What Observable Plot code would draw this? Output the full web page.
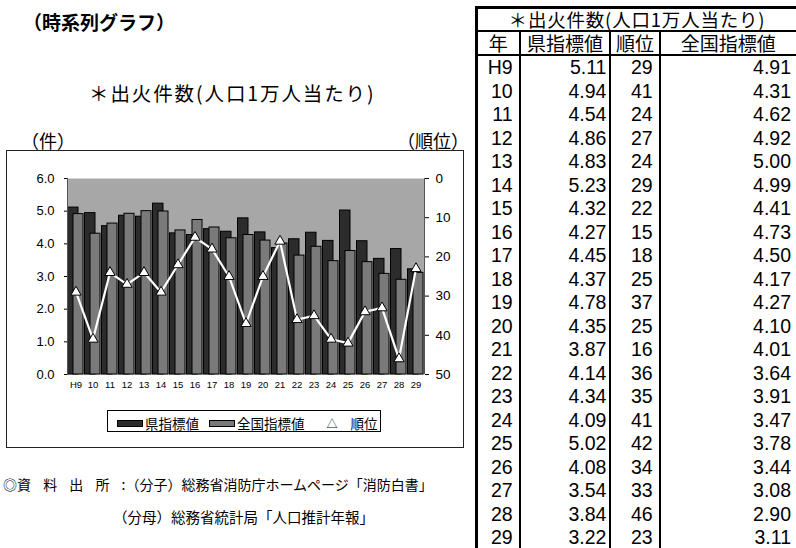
<!DOCTYPE html>
<html>
<head>
<meta charset="utf-8">
<script src="https://cdn.jsdelivr.net/npm/d3@7"></script>
<script src="https://cdn.jsdelivr.net/npm/@observablehq/plot@0.6"></script>
<style>
  body { margin:0; width:796px; height:548px; position:relative; overflow:hidden; background:#fff;
         font-family:"Noto Sans CJK JP","Liberation Sans",sans-serif; color:#000; }
  .abs { position:absolute; white-space:nowrap; }
  #panel { position:absolute; left:6px; top:150px; width:456px; height:296px; border:1px solid #222; }
  #chart { position:absolute; left:6px; top:150px; }
  #legend { position:absolute; left:107px; top:410px; width:272px; height:20px; border:1px solid #000;
            font-size:13.5px; line-height:20px; white-space:nowrap; }
  #legend span { display:inline-block; vertical-align:middle; }
  .sw { width:24px; height:5px; border:1px solid #000; margin-right:2px; }
  table { position:absolute; left:475px; top:6px; border-collapse:collapse; table-layout:fixed;
          font-family:"Liberation Sans","Noto Sans CJK JP",sans-serif; }
  td { padding:0; white-space:nowrap; }
  .h1 td { border-top:3px solid #000; border-bottom:2px solid #000; border-left:3px solid #000;
           height:21px; line-height:21px; font-size:18.5px; text-align:center; letter-spacing:0.8px;
           font-family:"Noto Sans CJK JP",sans-serif; }
  .h2 td { border-bottom:2px solid #000; height:22px; line-height:22px; font-size:19px; text-align:center;
           font-family:"Noto Sans CJK JP",sans-serif; }
  .d td { height:23.5px; line-height:23px; font-size:19.5px; text-align:right; }
  td.c0 { border-left:3px solid #000; border-right:2px solid #000; padding-right:6px; }
  td.c1 { border-right:2px solid #000; padding-right:3px; }
  td.c2 { border-right:2px solid #000; padding-right:6px; }
  td.c3 { padding-right:5px; }
  .h2 td.c0, .h2 td.c1, .h2 td.c2, .h2 td.c3 { text-align:center; padding-right:0; }
</style>
</head>
<body>
<div class="abs" style="left:23px;top:9px;font-size:19px;font-weight:bold;line-height:26px;">（時系列グラフ）</div>
<div class="abs" style="left:89px;top:80px;font-size:19.5px;letter-spacing:1.9px;line-height:26px;">＊出火件数(人口1万人当たり)</div>
<div class="abs" style="left:21px;top:127px;font-size:18px;line-height:26px;">（件）</div>
<div class="abs" style="left:397px;top:127px;font-size:18px;line-height:26px;">（順位）</div>
<div id="panel"></div>
<div id="chart"></div>
<div id="legend">
  <span class="sw" style="background:#2c2c2c;margin-left:9px"></span><span>県指標値</span><span class="sw" style="background:#7a7a7a;margin-left:10px"></span><span>全国指標値</span><span style="margin-left:22px;font-size:11px">△</span><span style="margin-left:13px">順位</span>
</div>
<div class="abs" style="left:3px;top:475px;font-size:14px;word-spacing:9px;line-height:18px;">◎資 料 出 所 :（分子）総務省消防庁ホームページ「消防白書」</div>
<div class="abs" style="left:113px;top:508px;font-size:14.5px;line-height:18px;">（分母）総務省統計局「人口推計年報」</div>
<table id="tbl"></table>
<script>
const years = ["H9","10","11","12","13","14","15","16","17","18","19","20","21","22","23","24","25","26","27","28","29"];
const prefValues = [5.11,4.94,4.54,4.86,4.83,5.23,4.32,4.27,4.45,4.37,4.78,4.35,3.87,4.14,4.34,4.09,5.02,4.08,3.54,3.84,3.22];
const rankValues = [29,41,24,27,24,29,22,15,18,25,37,25,16,36,35,41,42,34,33,46,23];
const nationalValues = [4.91,4.31,4.62,4.92,5.00,4.99,4.41,4.73,4.50,4.17,4.27,4.10,4.01,3.64,3.91,3.47,3.78,3.44,3.08,2.90,3.11];
const leftTicks = [0,1,2,3,4,5,6];
const rankTicks = [0,10,20,30,40,50];
const tableTitle = "＊出火件数(人口1万人当たり)";
const tableHeaders = ["年","県指標値","順位","全国指標値"];

const data = years.map((y,i) => ({year:y, pref:prefValues[i], nat:nationalValues[i], rank:rankValues[i]}));
const yMax = d3.max(leftTicks), rankMax = d3.max(rankTicks);
const rankToY = r => (rankMax - r) * yMax / rankMax;

const W = 458, H = 255, ml = 61, mr = 40, mt = 28, mb = 31;
const bw = (W - ml - mr) / years.length;

const chart = Plot.plot({
  width: W, height: H, marginLeft: ml, marginRight: mr, marginTop: mt, marginBottom: mb,
  style: {fontFamily: "'Liberation Sans', Arial, sans-serif", background: "transparent", overflow: "visible"},
  x: {domain: years, padding: 0, label: null},
  y: {domain: [0, yMax], label: null},
  marks: [
    Plot.frame({fill: "#a7a7a7", stroke: null}),
    Plot.barY(data, {x: "year", y: "pref", fill: "#2c2c2c", stroke: "#000", strokeWidth: 1, insetLeft: 0.5, insetRight: 6}),
    Plot.barY(data, {x: "year", y: "nat", fill: "#7a7a7a", stroke: "#000", strokeWidth: 1, insetLeft: 6, insetRight: 1}),
    Plot.ruleX([years[0]], {dx: -bw/2, stroke: "#555"}),
    Plot.ruleX([years[years.length-1]], {dx: bw/2, stroke: "#555"}),
    Plot.line(data, {x: "year", y: d => rankToY(d.rank), stroke: "#fff", strokeWidth: 2.2}),
    Plot.dot(data, {x: "year", y: d => rankToY(d.rank), symbol: "triangle", r: 3.8, fill: "#fff", stroke: "#000", strokeWidth: 1}),
    Plot.axisY({anchor: "left", ticks: leftTicks, tickFormat: d => d.toFixed(1), tickSize: 3, tickPadding: 10, fontSize: 13, label: null}),
    Plot.axisY({anchor: "right", ticks: rankTicks.map(rankToY), tickFormat: v => String(Math.round(rankMax - v * rankMax / yMax)), tickSize: 4, tickPadding: 7, fontSize: 13.5, label: null}),
    Plot.axisX({tickSize: 0, tickPadding: 7, fontSize: 9.5, label: null})
  ]
});
document.getElementById("chart").appendChild(chart);

// table
const tbl = document.getElementById("tbl");
const cg = document.createElement("colgroup");
[44, 92, 50, 140].forEach(w => { const c = document.createElement("col"); c.style.width = w + "px"; cg.appendChild(c); });
tbl.appendChild(cg);
const r1 = tbl.insertRow(); r1.className = "h1";
const t = r1.insertCell(); t.colSpan = 4; t.textContent = tableTitle;
const r2 = tbl.insertRow(); r2.className = "h2";
tableHeaders.forEach((h, i) => { const c = r2.insertCell(); c.className = "c" + i; c.textContent = h; });
years.forEach((y, i) => {
  const r = tbl.insertRow(); r.className = "d";
  [y, prefValues[i].toFixed(2), String(rankValues[i]), nationalValues[i].toFixed(2)].forEach((v, j) => {
    const c = r.insertCell(); c.className = "c" + j; c.textContent = v;
  });
});
</script>
</body>
</html>
